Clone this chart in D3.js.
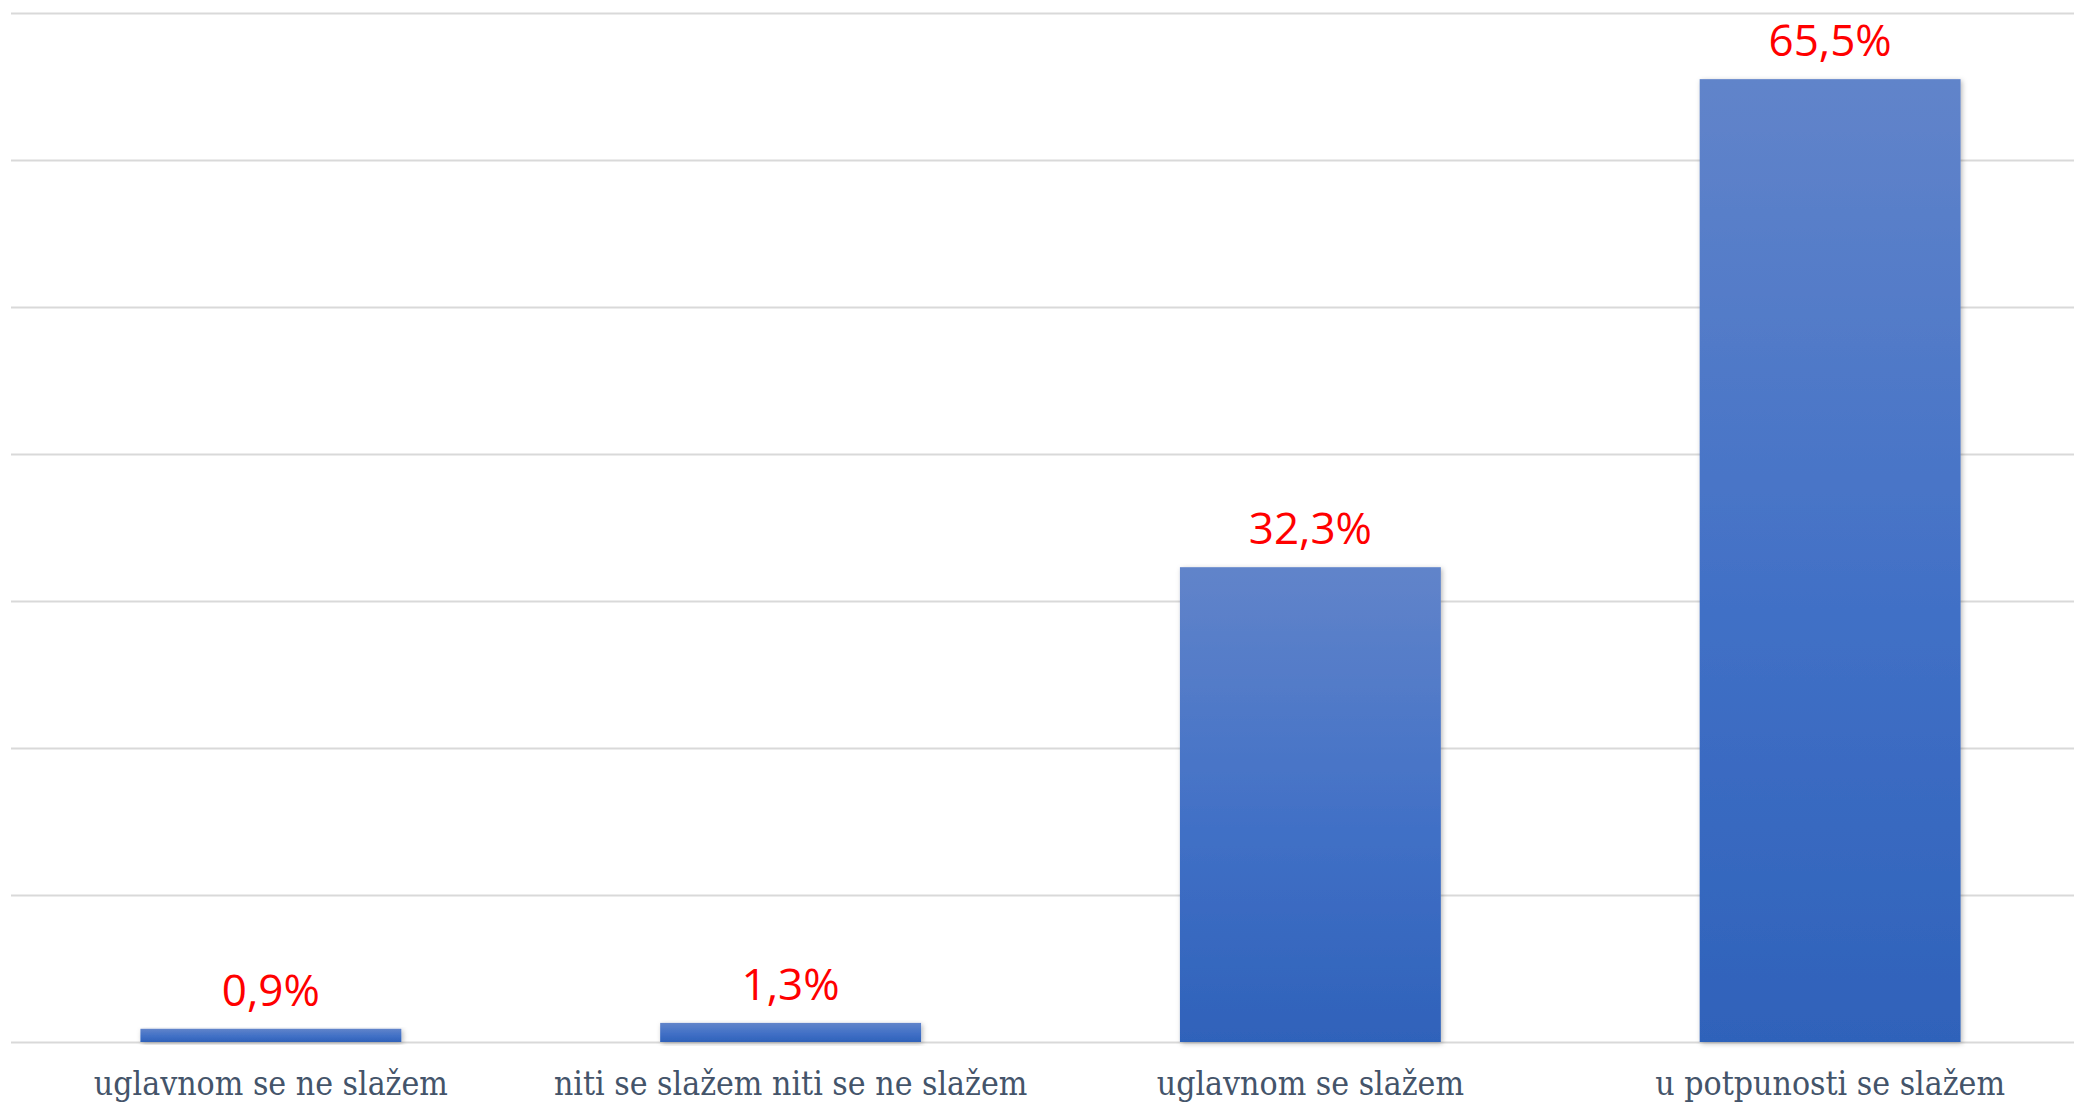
<!DOCTYPE html>
<html>
<head>
<meta charset="utf-8">
<script src="https://cdn.jsdelivr.net/npm/d3@7"></script>
<style>
  html, body { margin: 0; padding: 0; background: #ffffff; }
  svg { display: block; }
</style>
</head>
<body>
<svg id="chart" width="2074" height="1105"></svg>
<script>
const categories = ["uglavnom se ne slažem", "niti se slažem niti se ne slažem", "uglavnom se slažem", "u potpunosti se slažem"];
const values = [0.9, 1.3, 32.3, 65.5];
const yTicks = [0, 10, 20, 30, 40, 50, 60, 70];

const svg = d3.select("#chart");
const W = 2074, H = 1105;
const plot = { left: 11, right: 2090, top: 13, bottom: 1042 };

const x = d3.scaleBand().domain(categories).range([plot.left, plot.right])
  .paddingInner(0.498).paddingOuter(0.249);
const y = d3.scaleLinear().domain([0, 70]).range([plot.bottom, plot.top]);

const defs = svg.append("defs");
const grad = defs.append("linearGradient").attr("id", "barGrad")
  .attr("x1", 0).attr("y1", 0).attr("x2", 0).attr("y2", 1);
grad.append("stop").attr("offset", "0%").attr("stop-color", "#6184CA");
grad.append("stop").attr("offset", "55%").attr("stop-color", "#4170C6");
grad.append("stop").attr("offset", "100%").attr("stop-color", "#2F62BA");

const shadow = defs.append("filter").attr("id", "shadow")
  .attr("x", "-10%").attr("y", "-10%").attr("width", "120%").attr("height", "130%");
shadow.append("feDropShadow").attr("dx", 1.5).attr("dy", 1.5).attr("stdDeviation", 2.5)
  .attr("flood-color", "#000").attr("flood-opacity", 0.28);

// gridlines
svg.append("g").attr("class", "grid")
  .attr("transform", `translate(${plot.left},0)`)
  .call(d3.axisLeft(y).tickValues(yTicks).tickSize(-(W - plot.left)).tickFormat(""))
  .call(g => g.select(".domain").remove())
  .call(g => g.selectAll(".tick line").attr("stroke", "#D9D9D9").attr("stroke-width", 2));

// bars
svg.append("g").selectAll("rect").data(values).join("rect")
  .attr("x", (d, i) => x(categories[i]))
  .attr("width", x.bandwidth())
  .attr("y", d => y(d))
  .attr("height", d => y(0) - y(d))
  .attr("fill", "url(#barGrad)")
  .attr("filter", "url(#shadow)");

// value labels
const fmt = d => d3.format(".1f")(d).replace(".", ",") + "%";
svg.append("g").selectAll("text").data(values).join("text")
  .attr("x", (d, i) => x(categories[i]) + x.bandwidth() / 2)
  .attr("y", d => y(d) - 23)
  .attr("text-anchor", "middle")
  .attr("font-family", "'Open Sans', 'Noto Sans', sans-serif")
  .attr("font-size", 44)
  .attr("fill", "#FF0000")
  .text(fmt);

// category axis
svg.append("g")
  .attr("transform", `translate(0,${plot.bottom})`)
  .call(d3.axisBottom(x).tickSize(0).tickPadding(0))
  .call(g => g.select(".domain").remove())
  .call(g => g.selectAll("text")
    .attr("y", 53)
    .attr("dy", 0)
    .attr("font-family", "'DejaVu Serif Condensed', 'DejaVu Serif', serif")
    .attr("font-stretch", "condensed")
    .attr("font-size", 33.5)
    .attr("fill", "#44546A"));
</script>
</body>
</html>
